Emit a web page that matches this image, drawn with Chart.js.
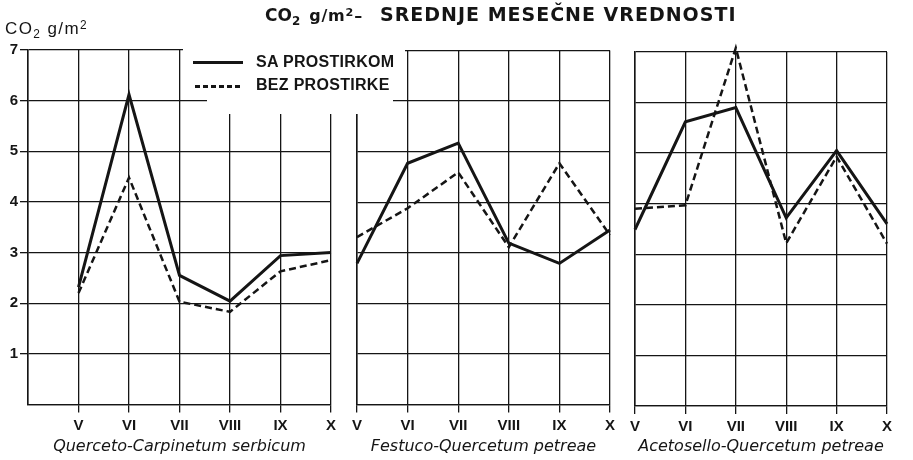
<!DOCTYPE html>
<html>
<head>
<meta charset="utf-8">
<title>CO2 g/m2 - srednje mesečne vrednosti</title>
<script src="https://cdn.jsdelivr.net/npm/chart.js@4.4.1/dist/chart.umd.min.js"></script>
<style>
  html, body { margin: 0; padding: 0; background: #fff; }
  #wrap { position: relative; width: 913px; height: 460px; overflow: hidden; color: #151515;
          font-family: 'Liberation Sans', Arial, sans-serif; }
  #wrap canvas { position: absolute; top: 0; }
  .mask { position: absolute; background: #fff; }
  .txt { position: absolute; white-space: nowrap; }
  .sub { font-size: 70%; position: relative; top: 0.3em; }
  .sup { font-size: 70%; position: relative; top: -0.45em; }
  #title { left: 265px; top: 5px; font-family: 'DejaVu Sans', sans-serif; font-size: 19px; line-height: 19px; font-weight: bold; }
  #title .co { font-size: 17px; }
  #title .main { position: absolute; left: 115px; top: 0; letter-spacing: 1px; }
  #title .unit { font-size: 16px; margin-left: 9px; letter-spacing: 0.8px; }
  #ylabel { left: 5px; top: 20px; font-size: 17px; line-height: 17px; letter-spacing: 1.4px; }
  .legtxt { font-size: 16px; line-height: 16px; font-weight: bold; letter-spacing: 0.3px; left: 256px; }
  .legline { position: absolute; height: 3px; }
</style>
</head>
<body>
<div id="wrap">
  <canvas id="panel1" width="340" height="460" style="left:0"></canvas>
  <canvas id="panel2" width="280" height="460" style="left:340px"></canvas>
  <canvas id="panel3" width="293" height="460" style="left:620px"></canvas>

  <!-- white box behind the legend, the grid stops around it -->
  <div class="mask" style="left:183px; top:40px; width:222px; height:17px"></div>
  <div class="mask" style="left:207px; top:40px; width:186px; height:74px"></div>

  <div id="title" class="txt"><span class="co">CO<span class="sub">2</span></span><span class="unit">g/m<span class="sup">2</span>–</span><span class="main">SREDNJE MESEČNE VREDNOSTI</span></div>
  <div id="ylabel" class="txt">CO<span class="sub">2</span> g/m<span class="sup">2</span></div>

  <div class="legline" style="left:193px; top:61px; width:50px; background:#151515"></div>
  <div class="legline" style="left:195px; top:85px; width:48px; background:repeating-linear-gradient(90deg,#151515 0 5px,transparent 5px 8px)"></div>
  <div id="leg1" class="txt legtxt" style="top:54px"></div>
  <div id="leg2" class="txt legtxt" style="top:77px"></div>
</div>

<script>
// Data (CO2 g/m2, monthly means)
const months = ['V', 'VI', 'VII', 'VIII', 'IX', 'X'];
const seriesNames = ['SA PROSTIRKOM', 'BEZ PROSTIRKE'];
const panelNames = ['Querceto-Carpinetum serbicum', 'Festuco-Quercetum petreae', 'Acetosello-Quercetum petreae'];

const carpinetumSa = [2.32, 6.12, 2.55, 2.04, 2.94, 3.0];
const carpinetumBez = [2.2, 4.48, 2.03, 1.83, 2.63, 2.85];
const festucoSa = [2.79, 4.77, 5.17, 3.19, 2.79, 3.45];
const festucoBez = [3.31, 3.88, 4.59, 3.11, 4.77, 3.35];
const acetoselloSa = [3.49, 5.62, 5.9, 3.72, 5.05, 3.6];
const acetoselloBez = [3.9, 3.97, 7.08, 3.22, 4.93, 3.21];

const yMin = 0;
const yMax = 7;

const ink = '#151515';
const gridWidth = 1.3;

document.getElementById('leg1').textContent = seriesNames[0];
document.getElementById('leg2').textContent = seriesNames[1];

// one panel = one small line chart
const makePanel = (id, labels, sa, bez, title, opts) => {
  new Chart(document.getElementById(id), {
    type: 'line',
    data: {
      labels: labels,
      datasets: [
        {
          label: seriesNames[0],
          data: sa,
          borderColor: ink,
          borderWidth: 3,
          borderJoinStyle: 'miter',
          pointRadius: 0,
          tension: 0,
          clip: false
        },
        {
          label: seriesNames[1],
          data: bez,
          borderColor: ink,
          borderWidth: 2.5,
          borderDash: [7, 4],
          borderJoinStyle: 'miter',
          pointRadius: 0,
          tension: 0,
          clip: false
        }
      ]
    },
    options: {
      responsive: false,
      animation: false,
      devicePixelRatio: 1,
      events: [],
      layout: { padding: { top: opts.top, left: opts.left, right: opts.right, bottom: 0 } },
      plugins: {
        legend: { display: false },
        tooltip: { enabled: false }
      },
      scales: {
        x: {
          offset: false,
          grid: {
            color: ink,
            lineWidth: gridWidth,
            tickLength: 8,
            tickColor: ctx => (opts.yTicks && ctx.index === 0) ? 'rgba(0,0,0,0)' : ink
          },
          border: { color: ink, width: gridWidth },
          ticks: {
            color: ink,
            font: { family: "'Liberation Sans', Arial, sans-serif", size: 15, weight: 'bold' },
            padding: 4,
            maxRotation: 0,
            autoSkip: false
          },
          title: {
            display: true,
            text: title,
            color: ink,
            font: { family: "'DejaVu Sans', sans-serif", size: 16, style: 'italic' },
            padding: { top: 0, bottom: 4 }
          },
          afterFit: s => { s.height = opts.xh; }
        },
        y: {
          min: yMin,
          max: yMax,
          grid: {
            color: ink,
            lineWidth: gridWidth,
            drawTicks: opts.yTicks,
            tickLength: 8,
            tickColor: ctx => (ctx.tick && ctx.tick.value === 0) ? 'rgba(0,0,0,0)' : ink
          },
          border: { color: ink, width: 1.5 },
          ticks: {
            display: opts.yTicks,
            stepSize: 1,
            color: ink,
            padding: 2,
            font: { family: "'Liberation Sans', Arial, sans-serif", size: 15, weight: 'bold' },
            callback: v => v === 0 ? '' : v
          },
          afterFit: s => { s.width = opts.yTicks ? 28 : 0; }
        }
      }
    }
  });
};

makePanel('panel1', [''].concat(months), [null].concat(carpinetumSa), [null].concat(carpinetumBez),
  panelNames[0], { top: 50, left: 0, right: 9, xh: 55.5, yTicks: true });
makePanel('panel2', months, festucoSa, festucoBez,
  panelNames[1], { top: 50.5, left: 17, right: 10, xh: 55.5, yTicks: false });
makePanel('panel3', months, acetoselloSa, acetoselloBez,
  panelNames[2], { top: 52, left: 15, right: 26, xh: 54, yTicks: false });
</script>
</body>
</html>
